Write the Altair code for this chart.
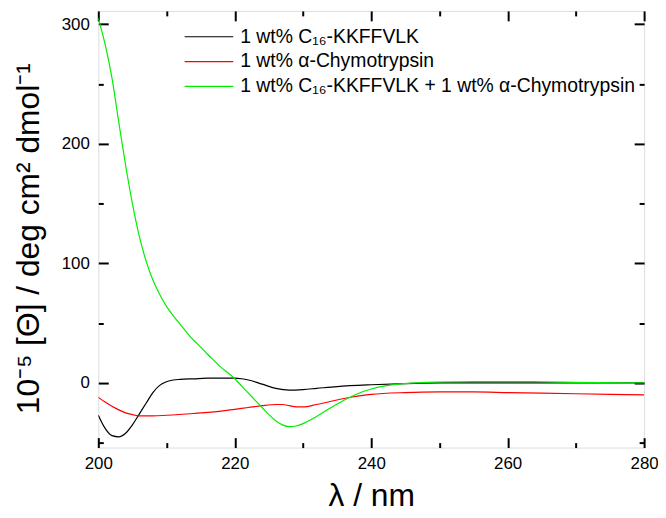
import altair as alt
import pandas as pd

# ---------------- data ----------------
lam_black = [200, 201, 202, 203, 204, 205, 206, 207, 208, 209, 210, 211, 212, 214, 216, 218, 220, 221, 222,
             224, 226, 228, 230, 232, 235, 240, 245, 250, 260, 270, 280]
val_black = [-27, -38, -44, -45, -42, -35, -26, -17, -8, -2, 1, 2.5, 3, 3.5, 4, 4, 4, 3.5, 2.5,
             -1, -4.5, -6, -5.5, -4.5, -3, -1.5, -0.5, 0, 0, 0, 0]

lam_red = [200, 201, 202, 203, 204, 205, 206, 208, 210, 214, 218, 220, 222, 224, 226, 227, 228, 229, 230,
           232, 234, 236, 238, 240, 245, 250, 255, 260, 270, 280]
val_red = [-12, -16, -19.5, -22.5, -25, -26.5, -27.5, -27.5, -27, -25.5, -23.5, -22, -20.5, -19, -18, -18,
           -19, -20, -20, -18, -15.5, -13, -11, -9.5, -8, -7.5, -7.5, -8, -9, -10]

lam_green = [200, 201, 202, 203, 204, 205, 206, 207, 208, 209, 210, 211, 212, 213, 214, 215, 216, 217, 218,
             219, 220, 221, 222, 223, 224, 225, 226, 227, 228, 229, 230, 232, 234, 236, 238, 240, 242, 245,
             250, 255, 260, 265, 270, 280]
val_green = [305, 283, 255, 218, 182, 150, 123, 102, 86, 74, 64, 56, 49, 42, 35.5, 30, 24, 18.5, 13,
             8.5, 3.5, -2.5, -8.5, -14.5, -20.5, -26.5, -31.5, -35, -36.5, -36, -34, -28, -21, -14.5, -9,
             -5, -2.5, -0.5, 0.8, 1.2, 1.2, 1, 0.5, 0]

series_names = ["1 wt% C\u2081\u2086-KKFFVLK",
                "1 wt% \u03b1-Chymotrypsin",
                "1 wt% C\u2081\u2086-KKFFVLK + 1 wt% \u03b1-Chymotrypsin"]
series_colors = ["#000000", "#ff0000", "#00ee00"]

x_major = [200, 220, 240, 260, 280]
x_minor = [210, 230, 250, 270]
y_major = [0, 100, 200, 300]
y_minor = [-50, 50, 150, 250]

x_title = "\u03bb / nm"
y_title = "10\u207b\u2075 [\u0398] / deg cm\u00b2 dmol\u207b\u00b9"

# ---------------- table ----------------
rows = []
for name, xs, ys in zip(series_names, [lam_black, lam_red, lam_green], [val_black, val_red, val_green]):
    for x, y in zip(xs, ys):
        rows.append({"series": name, "lam": x, "val": y})
df = pd.DataFrame(rows)

W, H = 550, 440
FONT = "Liberation Sans"
xscale = alt.Scale(domain=[200, 280], nice=False, zero=False)
yscale = alt.Scale(domain=[-54, 311], nice=False, zero=False)
cscale = alt.Scale(domain=series_names, range=series_colors)

lines = alt.Chart(df).mark_line(strokeWidth=1.2, interpolate="monotone", clip=True).encode(
    x=alt.X("lam:Q", scale=xscale,
            axis=alt.Axis(orient="bottom", values=x_major, tickSize=10, offset=-10, domain=False,
                          grid=False, tickColor="black", tickWidth=2, labelPadding=8, labelFontSize=17,
                          labelFlush=False, labelOverlap=False,
                          labelColor="black", format="d", title=x_title, titleFontSize=32,
                          titleFontWeight="normal", titleColor="black", titleX=W / 2, titleY=68,
                          titleAlign="center", titleBaseline="alphabetic")),
    y=alt.Y("val:Q", scale=yscale,
            axis=alt.Axis(orient="left", values=y_major, tickSize=10, offset=-10, domain=False,
                          grid=False, tickColor="black", tickWidth=2, labelPadding=9, labelFontSize=17,
                          labelFlush=False, labelOverlap=False,
                          labelColor="black", format="d", title=y_title, titleFontSize=32,
                          titleFontWeight="normal", titleColor="black", titleAngle=270,
                          titleX=-70.5, titleY=229, titleAlign="center", titleBaseline="alphabetic")),
    color=alt.Color("series:N", scale=cscale, legend=None),
    order=alt.Order("lam:Q"),
)


def tick_layer(xo, xv, xs, yo, yv, ys):
    return alt.Chart(df).mark_line(opacity=0).encode(
        x=alt.X("lam:Q", scale=xscale, title=None,
                axis=alt.Axis(orient=xo, values=xv, tickSize=xs, offset=-xs, domain=False, grid=False,
                              labels=False, tickColor="black", tickWidth=2)),
        y=alt.Y("val:Q", scale=yscale, title=None,
                axis=alt.Axis(orient=yo, values=yv, tickSize=ys, offset=-ys, domain=False, grid=False,
                              labels=False, tickColor="black", tickWidth=2)),
        detail="series:N",
    )


minor_bl = tick_layer("bottom", x_minor, 5, "left", y_minor, 5)
major_tr = tick_layer("top", x_major, 10, "right", y_major, 10)
minor_tr = tick_layer("top", x_minor, 5, "right", y_minor, 5)

legend_layers = []
for i, (name, color) in enumerate(zip(series_names, series_colors)):
    leg = pd.DataFrame({"label": [name]})
    ypix = 26 + 25 * i
    legend_layers.append(
        alt.Chart(leg).mark_rule(color=color, strokeWidth=1.2).encode(
            x=alt.value(87), x2=alt.value(136), y=alt.value(ypix)))
    legend_layers.append(
        alt.Chart(leg).mark_text(align="left", baseline="middle", fontSize=19.5, font=FONT,
                                 color="black").encode(
            x=alt.value(143), y=alt.value(ypix), text="label:N"))

chart = alt.layer(lines, minor_bl, major_tr, minor_tr, *legend_layers).resolve_axis(
    x="independent", y="independent"
).properties(
    width=W, height=H,
    padding={"left": 91, "top": 1, "right": 14, "bottom": 66},
    autosize=alt.AutoSizeParams(type="none"),
).configure_view(
    stroke="black", strokeWidth=2
).configure(
    font=FONT
).configure_axis(
    labelFont=FONT, titleFont=FONT
)

chart.save("out.html", embed_options={"renderer": "svg", "actions": False})
